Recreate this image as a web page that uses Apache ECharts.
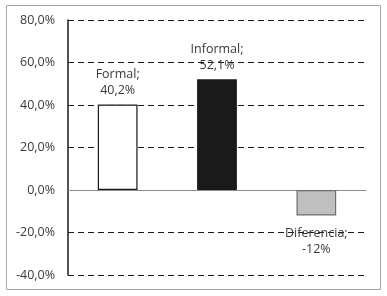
<!DOCTYPE html>
<html><head><meta charset="utf-8">
<script src="https://cdn.jsdelivr.net/npm/echarts@6/dist/echarts.min.js"></script>
<style>html,body{margin:0;padding:0;background:#fff}#c{width:387px;height:296px}</style>
</head><body><div id="c"></div>
<script>
const categories = ["Formal", "Informal", "Diferencia"];
const values = [40.2, 52.1, -12];
const valueLabels = ["40,2%", "52,1%", "-12%"];
const yTicks = [-40, -20, 0, 20, 40, 60, 80];

const colors = ["#ffffff", "#1a1a1a", "#bfbfbf"];
const borders = ["#1a1a1a", "#1a1a1a", "#6e6e6e"];
const font = "'Open Sans', 'Liberation Sans', sans-serif";

const chart = echarts.init(document.getElementById('c'), null, {renderer: 'canvas'});
chart.setOption({
  animation: false,
  backgroundColor: '#fff',
  graphic: [{type: 'rect', shape: {x: 6.5, y: 5.5, width: 374, height: 284}, style: {fill: 'none', stroke: '#a6a6a6', lineWidth: 1}, z: -1}],
  grid: {left: 68, right: 21, top: 20, bottom: 21, containLabel: false},
  xAxis: {
    type: 'category', data: categories,
    axisLine: {onZero: true, lineStyle: {color: '#8c8c8c', width: 1}},
    axisTick: {show: false}, axisLabel: {show: false}, splitLine: {show: false}
  },
  yAxis: {
    type: 'value', min: -40, max: 80, interval: 20,
    axisLine: {show: true, lineStyle: {color: '#1a1a1a', width: 1.5}},
    axisTick: {show: false},
    axisLabel: {color: '#3a3a3a', fontFamily: font, fontSize: 12.5, margin: 13,
      formatter: v => (yTicks.includes(v) ? v.toFixed(1).replace('.', ',') + '%' : '')},
    splitLine: {show: true, lineStyle: {color: '#1a1a1a', type: [6, 4], width: 1.2}}
  },
  series: [{
    type: 'bar', barWidth: '40%',
    data: values.map((v, i) => ({
      value: v,
      itemStyle: {color: colors[i], borderColor: borders[i], borderWidth: 1.2},
      label: {
        show: true, position: v >= 0 ? 'top' : 'bottom', distance: v >= 0 ? 6 : 10,
        formatter: categories[i] + ';\n' + valueLabels[i],
        color: '#3a3a3a', fontFamily: font, fontSize: 12.5, lineHeight: 16
      }
    }))
  }]
});
</script></body></html>
